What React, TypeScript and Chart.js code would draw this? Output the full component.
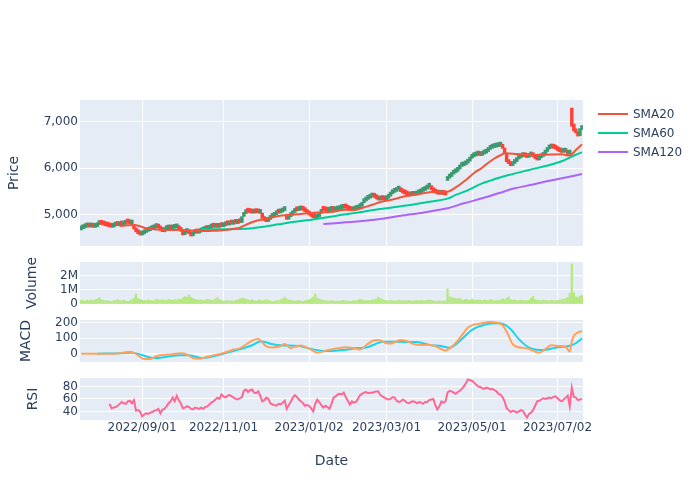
import React, { useEffect, useRef } from 'react';
import { Chart, registerables } from 'chart.js';

Chart.register(...registerables);

const FONT = "'DejaVu Sans', Verdana, sans-serif";
const TEXT = '#2a3f5f';
const PLOT_BG = '#E5ECF6';

// x axis: trading-day index (0 = 2022/07/20 ... 246 = 2023/07/20)
const xTickIdx = [30, 70, 112, 150, 192, 234];
const xTickLabels = ['2022/09/01', '2022/11/01', '2023/01/02', '2023/03/01', '2023/05/01', '2023/07/02'];

const opens = [
  4680, 4705, 4725, 4745, 4770, 4745, 4765, 4735, 4750, 4795,
  4825, 4805, 4790, 4765, 4760, 4750, 4740, 4765, 4790, 4770,
  4795, 4785, 4805, 4840, 4830, 4805, 4800, 4690, 4650, 4610,
  4570, 4595, 4625, 4650, 4665, 4690, 4705, 4730, 4770, 4725,
  4685, 4640, 4685, 4700, 4720, 4700, 4715, 4725, 4740, 4700,
  4660, 4580, 4625, 4680, 4610, 4555, 4605, 4645, 4610, 4635,
  4655, 4675, 4710, 4690, 4720, 4745, 4735, 4755, 4735, 4765,
  4750, 4770, 4800, 4785, 4815, 4800, 4830, 4815, 4845, 4840,
  4970, 5030, 5080, 5065, 5055, 5040, 5060, 5055, 5035, 5040,
  4930, 4885, 4860, 4905, 4950, 4970, 5005, 5055, 5045, 5065,
  5095, 5010, 4910, 4965, 5005, 5055, 5110, 5095, 5110, 5125,
  5100, 5075, 5035, 5005, 4975, 4950, 4935, 4965, 5035, 5115,
  5100, 5095, 5080, 5100, 5110, 5090, 5105, 5115, 5135, 5145,
  5195, 5155, 5125, 5105, 5090, 5115, 5125, 5155, 5185, 5265,
  5300, 5335, 5360, 5385, 5410, 5385, 5355, 5320, 5345, 5335,
  5325, 5360, 5405, 5455, 5485, 5505, 5535, 5560, 5505, 5475,
  5455, 5435, 5410, 5435, 5420, 5430, 5455, 5475, 5505, 5525,
  5555, 5595, 5630, 5545, 5505, 5475, 5455, 5445, 5465, 5445,
  5740, 5790, 5825, 5875, 5905, 5935, 5985, 6040, 6055, 6075,
  6110, 6155, 6215, 6250, 6265, 6285, 6295, 6275, 6305, 6325,
  6360, 6405, 6430, 6445, 6455, 6465, 6475, 6490, 6435, 6325,
  6145, 6105, 6060, 6105, 6145, 6200, 6225, 6250, 6265, 6250,
  6235, 6265, 6290, 6250, 6215, 6180, 6225, 6255, 6305, 6360,
  6415, 6435, 6445, 6435, 6415, 6385, 6360, 6345, 6345, 6360,
  6305, 7290, 6950, 6820, 6770, 6700, 6830,
];

const closes = [
  4700, 4720, 4750, 4765, 4740, 4760, 4737, 4745, 4790, 4822,
  4800, 4786, 4770, 4760, 4745, 4737, 4760, 4780, 4775, 4790,
  4786, 4800, 4835, 4830, 4810, 4820, 4700, 4640, 4600, 4572,
  4590, 4620, 4643, 4660, 4690, 4700, 4730, 4765, 4720, 4679,
  4643, 4680, 4700, 4715, 4700, 4715, 4730, 4737, 4690, 4650,
  4572, 4620, 4679, 4600, 4550, 4600, 4643, 4615, 4630, 4658,
  4670, 4700, 4690, 4720, 4737, 4740, 4750, 4735, 4760, 4750,
  4770, 4786, 4790, 4800, 4808, 4815, 4822, 4830, 4835, 4964,
  5036, 5071, 5060, 5050, 5040, 5055, 5050, 5045, 5050, 4929,
  4880, 4857, 4900, 4940, 4964, 5000, 5050, 5040, 5060, 5090,
  5121, 4907, 4960, 5000, 5050, 5107, 5090, 5110, 5121, 5100,
  5070, 5030, 5000, 4970, 4943, 4930, 4960, 5030, 5107, 5100,
  5090, 5080, 5100, 5107, 5095, 5107, 5115, 5130, 5143, 5193,
  5150, 5121, 5100, 5090, 5110, 5121, 5150, 5179, 5260, 5300,
  5330, 5357, 5380, 5407, 5380, 5350, 5321, 5340, 5330, 5321,
  5357, 5400, 5450, 5480, 5500, 5530, 5557, 5500, 5470, 5450,
  5430, 5407, 5430, 5420, 5428, 5450, 5470, 5500, 5520, 5550,
  5590, 5627, 5540, 5500, 5470, 5450, 5443, 5460, 5440, 5428,
  5780, 5820, 5871, 5900, 5927, 5980, 6034, 6050, 6070, 6106,
  6150, 6213, 6248, 6260, 6284, 6290, 6270, 6299, 6320, 6355,
  6400, 6427, 6440, 6450, 6462, 6470, 6483, 6430, 6320, 6141,
  6100, 6055, 6100, 6140, 6198, 6220, 6248, 6260, 6248, 6230,
  6260, 6284, 6248, 6210, 6177, 6220, 6248, 6300, 6355, 6412,
  6430, 6441, 6430, 6412, 6380, 6355, 6340, 6350, 6355, 6300,
  6320, 6900, 6800, 6760, 6690, 6850, 6870,
];

// volume in thousands of shares
const volumesK = [
  250, 230, 200, 260, 220, 280, 240, 300, 350, 450,
  300, 260, 220, 250, 200, 180, 230, 260, 300, 250,
  220, 270, 200, 180, 230, 300, 420, 700, 380, 320,
  280, 250, 230, 300, 260, 220, 240, 330, 280, 260,
  300, 270, 250, 330, 290, 260, 310, 270, 350, 300,
  420, 520, 470, 640, 460, 380, 330, 300, 270, 280,
  250, 270, 320, 300, 260, 280, 360, 450, 300, 260,
  220, 200, 240, 210, 230, 190, 260, 300, 340, 400,
  380, 330, 280, 250, 300, 230, 200, 250, 280, 220,
  260, 300, 250, 220, 180, 200, 240, 220, 300, 380,
  480, 350, 280, 260, 220, 200, 230, 250, 200, 180,
  220, 250, 300, 380, 480, 700, 420, 330, 300, 260,
  240, 220, 200, 230, 210, 190, 220, 200, 230, 250,
  220, 200, 180, 210, 240, 220, 260, 330, 280, 240,
  220, 250, 230, 280, 300, 350, 480, 380, 300, 260,
  240, 220, 250, 230, 200, 230, 260, 220, 240, 210,
  230, 250, 220, 200, 230, 240, 210, 250, 230, 220,
  260, 280, 250, 230, 200, 180, 220, 200, 210, 230,
  1070, 500, 450, 420, 380, 350, 420, 300, 280, 330,
  300, 260, 350, 280, 250, 300, 260, 230, 280, 250,
  240, 300, 270, 230, 260, 220, 280, 360, 300, 420,
  500, 300, 260, 280, 240, 230, 270, 250, 220, 240,
  260, 420, 530, 300, 270, 260, 230, 280, 250, 240,
  220, 260, 240, 230, 250, 280, 300, 350, 400, 450,
  750, 2800, 800, 500, 450, 550, 600,
];

// moving averages: [day index, value]
const sma20: [number, number][] = [
  [19, 4765], [23, 4780], [26, 4786], [29, 4760], [32, 4715], [36, 4695], [40, 4680], [45, 4680],
  [49, 4682], [53, 4670], [57, 4660], [61, 4655], [65, 4660], [68, 4668], [71, 4680], [75, 4705],
  [78, 4730], [81, 4790], [85, 4860], [91, 4920], [97, 4979], [102, 5000], [106, 5014], [113, 5045],
  [118, 5055], [124, 5071], [130, 5110], [134, 5105], [138, 5150], [143, 5220], [148, 5290],
  [153, 5330], [158, 5390], [163, 5430], [166, 5450], [172, 5490], [176, 5495], [180, 5500],
  [184, 5590], [189, 5749], [193, 5900], [197, 6013], [200, 6120], [203, 6210], [206, 6280],
  [208, 6320], [214, 6305], [221, 6284], [228, 6290], [236, 6299], [240, 6275], [243, 6390], [246, 6513],
];
const sma60: [number, number][] = [
  [59, 4700], [65, 4695], [70, 4695], [76, 4700], [83, 4712], [90, 4750], [97, 4800], [105, 4855],
  [114, 4905], [121, 4950], [129, 5010], [137, 5060], [146, 5121], [155, 5175], [164, 5232],
  [172, 5290], [180, 5350], [184, 5430], [189, 5510], [197, 5678], [204, 5780], [210, 5856],
  [220, 5965], [230, 6070], [236, 6150], [240, 6230], [243, 6290], [246, 6342],
];
const sma120: [number, number][] = [
  [119, 4807], [125, 4825], [130, 4843], [137, 4865], [143, 4893], [149, 4925], [154, 4962],
  [160, 5000], [166, 5036], [173, 5090], [180, 5143], [188, 5250], [197, 5357], [205, 5465],
  [213, 5571], [222, 5655], [230, 5735], [238, 5805], [246, 5877],
];

const macd: [number, number][] = [
  [0, 0], [8, 0], [18, 2], [22, 10], [24, 13], [26, 5], [29, -20], [31, -35], [34, -35], [37, -15],
  [40, -8], [45, -3], [49, 3], [52, -5], [55, -28], [58, -33], [62, -20], [65, -10], [70, 5],
  [75, 27], [78, 35], [81, 60], [84, 85], [87, 95], [89, 75], [91, 48], [94, 40], [98, 50],
  [100, 63], [103, 37], [105, 45], [108, 53], [111, 40], [113, 26], [116, 6], [119, 15], [122, 26],
  [126, 35], [130, 42], [133, 38], [137, 28], [140, 55], [143, 83], [146, 90], [150, 68], [152, 66],
  [154, 75], [157, 90], [160, 82], [163, 64], [167, 57], [172, 57], [176, 37], [179, 20], [181, 35],
  [184, 70], [187, 120], [190, 170], [193, 190], [197, 198], [200, 207], [205, 200], [207, 185],
  [209, 144], [212, 62], [215, 42], [219, 35], [222, 20], [225, 6], [228, 30], [231, 55], [235, 50],
  [238, 45], [240, 13], [241, 80], [242, 115], [244, 138], [246, 148],
];
const signal: [number, number][] = [
  [8, 0], [20, 3], [25, 7], [30, -8], [35, -28], [38, -28], [42, -20], [48, -10], [53, -10],
  [57, -22], [60, -28], [65, -17], [72, 7], [78, 29], [84, 55], [88, 80], [90, 78], [93, 65],
  [98, 55], [107, 50], [113, 31], [120, 18], [125, 20], [130, 26], [136, 37], [140, 40], [144, 60],
  [148, 78], [155, 78], [165, 76], [172, 55], [176, 52], [181, 38], [184, 60], [187, 95], [192, 155],
  [199, 192], [205, 198], [208, 190], [211, 160], [215, 95], [220, 40], [227, 24], [233, 39],
  [240, 52], [243, 68], [246, 100],
];

const rsiStart = 14;
const rsi = [
  52, 45, 46, 47, 49, 52, 55, 53, 52, 56,
  57, 53, 58, 41, 42, 40, 32, 35, 37, 36,
  38, 39, 41, 42, 44, 37, 43, 44, 48, 53,
  56, 62, 56, 65, 58, 53, 45, 46, 48, 47,
  44, 43, 46, 45, 44, 46, 44, 47, 48, 51,
  54, 56, 59, 62, 60, 67, 64, 62, 65, 66,
  64, 62, 60, 59, 61, 63, 73, 75, 71, 74,
  75, 70, 69, 72, 65, 56, 58, 62, 60, 53,
  51, 50, 49, 52, 51, 54, 57, 44, 50, 55,
  62, 66, 63, 59, 56, 53, 49, 50, 49, 45,
  40, 52, 59, 55, 50, 46, 49, 47, 44, 52,
  62, 64, 67, 68, 67, 70, 63, 57, 51, 56,
  54, 55, 60, 66, 68, 70, 71, 69, 70, 70,
  71, 72, 72, 66, 64, 62, 60, 59, 60, 63,
  62, 57, 55, 56, 59, 57, 54, 53, 55, 56,
  55, 53, 55, 54, 52, 55, 55, 58, 59, 60,
  50, 43, 48, 56, 54, 56, 70, 73, 72, 70,
  68, 71, 73, 76, 80, 85, 91, 90, 89, 86,
  83, 80, 79, 77, 76, 78, 77, 75, 76, 74,
  72, 68, 67, 63, 56, 45, 42, 39, 41, 40,
  38, 40, 42, 41, 35, 30, 36, 38, 42, 49,
  56, 57, 59, 61, 60, 61, 62, 61, 63, 64,
  61, 58, 56, 59, 62, 65, 48, 78, 63, 62,
  58, 59, 60,
];

const priceTicks = [5000, 6000, 7000];
const volumeTicks = [0, 1000, 2000];
const macdTicks = [0, 100, 200];
const rsiTicks = [40, 60, 80];

const legendItems = [
  { label: 'SMA20', color: '#EF553B' },
  { label: 'SMA60', color: '#00CC96' },
  { label: 'SMA120', color: '#AB63FA' },
];

const bgPlugin = {
  id: 'plotBg',
  beforeDraw(chart: any) {
    const { ctx, chartArea: a } = chart;
    ctx.save();
    ctx.fillStyle = PLOT_BG;
    ctx.fillRect(a.left, a.top, a.right - a.left, a.bottom - a.top);
    ctx.restore();
  },
};

function xAxis(show: boolean) {
  return {
    type: 'linear',
    min: -0.5,
    max: 246.5,
    offset: false,
    afterBuildTicks: (s: any) => { s.ticks = xTickIdx.map((v) => ({ value: v })); },
    afterFit: (s: any) => { s.height = show ? 50 : 0; },
    grid: { color: '#ffffff', lineWidth: 1, drawTicks: false, offset: false },
    border: { display: false },
    ticks: {
      display: show, autoSkip: false, maxRotation: 0, minRotation: 0, padding: 1,
      color: TEXT, font: { family: FONT, size: 12 },
      callback: (v: any) => xTickLabels[xTickIdx.indexOf(Number(v))],
    },
    title: { display: show, text: 'Date', color: TEXT, font: { family: FONT, size: 14 }, padding: 0 },
  };
}

function yAxis(o: { min: number; max: number; ticks: number[]; title: string; left: number; fmt: (v: number) => string; zero?: boolean }) {
  return {
    type: 'linear',
    position: 'left',
    min: o.min,
    max: o.max,
    afterBuildTicks: (s: any) => { s.ticks = o.ticks.map((v) => ({ value: v })); },
    afterFit: (s: any) => { s.width = 80 - o.left; },
    grid: {
      color: '#ffffff', drawTicks: false,
      lineWidth: (c: any) => (o.zero && c.tick && c.tick.value === 0 ? 2 : 1),
    },
    border: { display: false },
    ticks: { padding: 2, color: TEXT, font: { family: FONT, size: 12 }, callback: (v: any) => o.fmt(Number(v)) },
    title: { display: true, text: o.title, color: TEXT, font: { family: FONT, size: 14 }, padding: 0 },
  };
}

function baseOptions(padding: any) {
  return {
    responsive: false,
    animation: false,
    devicePixelRatio: 1,
    events: [],
    layout: { padding },
    plugins: { legend: { display: false }, tooltip: { enabled: false } },
  };
}

function lineSet(pts: [number, number][], color: string, smooth = true) {
  return {
    type: 'line',
    data: pts.map(([x, y]) => ({ x, y })),
    borderColor: color,
    backgroundColor: color,
    borderWidth: 2,
    pointRadius: 0,
    fill: false,
    cubicInterpolationMode: smooth ? 'monotone' : 'default',
    tension: 0,
    order: 0,
  };
}

export default function App() {
  const priceRef = useRef<HTMLCanvasElement>(null);
  const volRef = useRef<HTMLCanvasElement>(null);
  const macdRef = useRef<HTMLCanvasElement>(null);
  const rsiRef = useRef<HTMLCanvasElement>(null);

  useEffect(() => {
    Chart.defaults.font.family = FONT;
    Chart.defaults.color = TEXT;

    const candleData = closes.map((c, i) => ({ x: i, y: [opens[i], c] }));
    const candleColors = closes.map((c, i) => (c >= opens[i] ? '#3D9970' : '#FF4136'));

    const price = new Chart(priceRef.current as HTMLCanvasElement, {
      type: 'bar',
      data: {
        datasets: [
          lineSet(sma20, '#EF553B'),
          lineSet(sma60, '#00CC96'),
          lineSet(sma120, '#AB63FA'),
          {
            type: 'bar', data: candleData, backgroundColor: candleColors, borderWidth: 0,
            barThickness: 2.8, minBarLength: 4, grouped: false, order: 1,
          },
        ] as any,
      },
      options: {
        ...baseOptions({ left: 6.1, right: 117, top: 100, bottom: 24 }),
        scales: {
          x: xAxis(false),
          y: yAxis({ min: 4336, max: 7463, ticks: priceTicks, title: 'Price', left: 6.1, fmt: (v) => v.toLocaleString('en-US') }),
        },
      } as any,
      plugins: [bgPlugin],
    });

    const vol = new Chart(volRef.current as HTMLCanvasElement, {
      type: 'bar',
      data: {
        datasets: [{
          data: volumesK.map((v, i) => ({ x: i, y: v })), backgroundColor: '#B6E880',
          borderWidth: 0, barThickness: 1.6, grouped: false,
        }] as any,
      },
      options: {
        ...baseOptions({ left: 23.6, right: 117, top: 22, bottom: 26 }),
        scales: {
          x: xAxis(false),
          y: yAxis({ min: 0, max: 2940, ticks: volumeTicks, title: 'Volume', left: 23.6, fmt: (v) => (v === 0 ? '0' : `${v / 1000}M`) }),
        },
      } as any,
      plugins: [bgPlugin],
    });

    const macdChart = new Chart(macdRef.current as HTMLCanvasElement, {
      type: 'line',
      data: {
        datasets: [
          lineSet(macd, '#FFA15A'),
          lineSet(signal, '#19D3F3'),
        ] as any,
      },
      options: {
        ...baseOptions({ left: 17.6, right: 117, top: 20, bottom: 18 }),
        scales: {
          x: xAxis(false),
          y: yAxis({ min: -54, max: 219.5, ticks: macdTicks, title: 'MACD', left: 17.6, fmt: (v) => String(v), zero: true }),
        },
      } as any,
      plugins: [bgPlugin],
    });

    const rsiChart = new Chart(rsiRef.current as HTMLCanvasElement, {
      type: 'line',
      data: {
        datasets: [{
          ...lineSet(rsi.map((v, k) => [rsiStart + k, v] as [number, number]), '#FF6692', false),
        }] as any,
      },
      options: {
        ...baseOptions({ left: 24.6, right: 117, top: 20, bottom: 30 }),
        scales: {
          x: xAxis(true),
          y: yAxis({ min: 26.2, max: 93.4, ticks: rsiTicks, title: 'RSI', left: 24.6, fmt: (v) => String(v) }),
        },
      } as any,
      plugins: [bgPlugin],
    });

    return () => {
      price.destroy();
      vol.destroy();
      macdChart.destroy();
      rsiChart.destroy();
    };
  }, []);

  const abs = (top: number): React.CSSProperties => ({ position: 'absolute', left: 0, top });

  return (
    <div style={{ position: 'absolute', left: 0, top: 0, width: 700, height: 500, background: '#ffffff', overflow: 'hidden' }}>
      <canvas ref={priceRef} width={700} height={270} style={abs(0)} />
      <canvas ref={volRef} width={700} height={90} style={abs(240)} />
      <canvas ref={macdRef} width={700} height={80} style={abs(300)} />
      <canvas ref={rsiRef} width={700} height={142} style={abs(358)} />
      {legendItems.map((it, i) => (
        <div
          key={it.label}
          style={{
            position: 'absolute', left: 598, top: 114 + i * 19 - 8, height: 16,
            display: 'flex', alignItems: 'center', fontFamily: FONT, fontSize: 12, color: TEXT, whiteSpace: 'nowrap',
          }}
        >
          <div style={{ width: 30, height: 2, background: it.color }} />
          <span style={{ marginLeft: 5, lineHeight: '16px' }}>{it.label}</span>
        </div>
      ))}
    </div>
  );
}
